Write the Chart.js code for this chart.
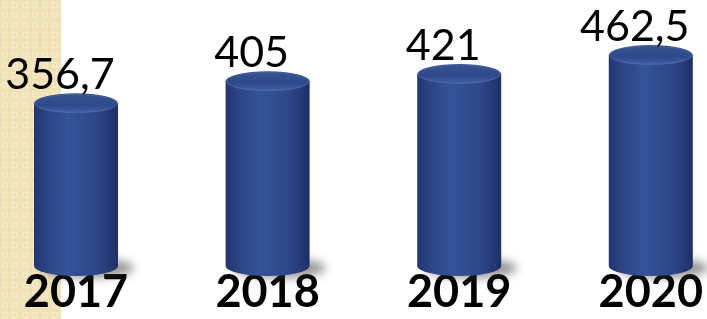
<!DOCTYPE html>
<html>
<head>
<meta charset="utf-8">
<script src="https://cdn.jsdelivr.net/npm/chart.js@4.4.1/dist/chart.umd.min.js"></script>
<style>
  html, body { margin: 0; padding: 0; background: #fff; }
  #box { width: 707px; height: 319px; position: relative; }
</style>
</head>
<body>
<div id="box"><canvas id="grafico"></canvas></div>
<script>
// dados do gráfico
const anos = ["2017", "2018", "2019", "2020"];
const valores = [356.7, 405, 421, 462.5];
const rotulos = ["356,7", "405", "421", "462,5"];

// fundo branco + faixa bege quadriculada à esquerda
const fundo = {
    id: "fundo",
    beforeDraw(chart) {
        const ctx = chart.ctx;
        ctx.save();
        ctx.fillStyle = "#ffffff";
        ctx.fillRect(0, 0, chart.width, chart.height);
        const tile = document.createElement("canvas");
        tile.width = 10; tile.height = 10;
        const t = tile.getContext("2d");
        t.fillStyle = "#f1e1b6"; t.fillRect(0, 0, 10, 10);
        t.fillStyle = "#f5e8c6"; t.fillRect(2, 2, 6, 6);
        t.fillStyle = "#efdeb0"; t.fillRect(4, 4, 2, 2);
        ctx.fillStyle = ctx.createPattern(tile, "repeat");
        ctx.fillRect(0, 0, 61, chart.height);
        ctx.restore();
    }
};

// desenha cada barra como um cilindro
const cilindros = {
    id: "cilindros",
    afterDatasetsDraw(chart) {
        const ctx = chart.ctx;
        const meta = chart.getDatasetMeta(0);
        meta.data.forEach((bar, i) => {
            const w = 84;
            const x0 = bar.x - w / 2, x1 = bar.x + w / 2;
            const rx = w / 2, ry = 10;
            const top = bar.y, base = bar.base;
            ctx.save();
            // sombra
            ctx.filter = "blur(5px)";
            ctx.fillStyle = "rgba(60,60,60,0.55)";
            ctx.beginPath();
            ctx.ellipse(bar.x + 12, base + 2, rx + 4, ry, 0, 0, Math.PI * 2);
            ctx.fill();
            ctx.filter = "none";
            // corpo
            const g = ctx.createLinearGradient(x0, 0, x1, 0);
            g.addColorStop(0, "#223571");
            g.addColorStop(0.15, "#2c4482");
            g.addColorStop(0.4, "#35529a");
            g.addColorStop(0.75, "#2d4787");
            g.addColorStop(1, "#1f2f66");
            ctx.fillStyle = g;
            ctx.beginPath();
            ctx.moveTo(x0, top);
            ctx.lineTo(x0, base);
            ctx.ellipse(bar.x, base, rx, ry, 0, Math.PI, 0, true);
            ctx.lineTo(x1, top);
            ctx.closePath();
            ctx.fill();
            // tampa
            const gt = ctx.createLinearGradient(0, top - ry, 0, top + ry);
            gt.addColorStop(0, "#36528f");
            gt.addColorStop(0.6, "#2f4a8b");
            gt.addColorStop(1, "#4261a6");
            ctx.fillStyle = gt;
            ctx.beginPath();
            ctx.ellipse(bar.x, top, rx, ry, 0, 0, Math.PI * 2);
            ctx.fill();
            ctx.strokeStyle = "rgba(100,125,180,0.35)";
            ctx.lineWidth = 1;
            ctx.beginPath();
            ctx.ellipse(bar.x, top, rx - 1, ry - 1, 0, 0, Math.PI * 2);
            ctx.stroke();
            // rótulo do valor
            ctx.fillStyle = "#000";
            ctx.font = "43px Lato";
            ctx.textAlign = "center";
            ctx.textBaseline = "alphabetic";
            ctx.fillText(rotulos[i], bar.x - 16, top - ry - 4);
            ctx.restore();
        });
    }
};

const config = {
    type: "bar",
    data: {
        labels: anos,
        datasets: [{
            data: valores,
            backgroundColor: "rgba(0,0,0,0)",
            borderWidth: 0,
            barPercentage: 0.43,
            categoryPercentage: 1
        }]
    },
    options: {
        responsive: false,
        animation: false,
        layout: { padding: { top: 38, left: 76, right: 46, bottom: 0 } },
        plugins: { legend: { display: false }, tooltip: { enabled: false } },
        scales: {
            x: {
                offset: false,
                grid: { display: false, drawTicks: false },
                border: { display: false },
                ticks: {
                    color: "#000",
                    padding: 4,
                    maxRotation: 0,
                    font: { family: "Lato", size: 45, weight: "bold", lineHeight: 1 }
                }
            },
            y: { display: false, min: 0, max: 500 }
        }
    },
    plugins: [fundo, cilindros]
};

const canvas = document.getElementById("grafico");
canvas.width = 707;
canvas.height = 319;
new Chart(canvas, config);
</script>
</body>
</html>
